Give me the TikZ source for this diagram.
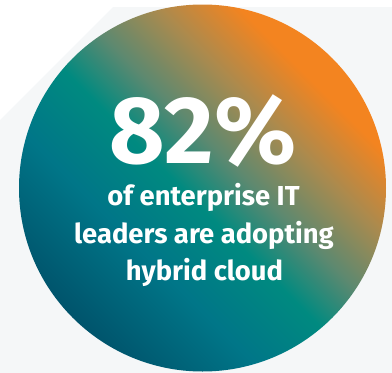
\documentclass[tikz,border=0pt]{standalone}
\usepackage{fontspec}
\setmainfont{Fira Sans}
\definecolor{bggray}{RGB}{245,247,248}
\definecolor{hcdark}{RGB}{0,84,108}
\definecolor{hcblue}{RGB}{0,118,136}
\definecolor{hcteal}{RGB}{0,138,128}
\definecolor{hcsage}{RGB}{92,137,112}
\definecolor{hctan}{RGB}{170,138,78}
\definecolor{hcorange}{RGB}{243,132,32}
\pgfdeclarehorizontalshading{hybrid}{100bp}{%
  color(0bp)=(hcdark); color(25bp)=(hcdark); color(38bp)=(hcblue);
  color(48bp)=(hcteal); color(55bp)=(hcsage); color(63bp)=(hctan);
  color(71bp)=(hcorange); color(100bp)=(hcorange)}
\tikzset{
    pct/.style={text=white, font=\fontsize{96}{96}\selectfont\bfseries, inner sep=0pt, text depth=0pt, anchor=base},
    line/.style={text=white, font=\fontsize{27.5}{27.5}\selectfont\bfseries, inner sep=0pt, anchor=base},
    disc/.style={shading=hybrid, shading angle=45}
}
\begin{document}
\begin{tikzpicture}[x=1bp, y=-1bp]
  \useasboundingbox (0,0) rectangle (392,373);
  % backdrop
  \fill[bggray] (0,120) -- (113,7) -- (392,7) -- (392,373) -- (0,373) -- cycle;
  \shade[disc] (202.5,188) circle[radius=183.5];

  \node[pct] (num) at (203,163) {82\%};
  \node[line] (l1) at (203.5,205) {of enterprise IT};
  \node[line] (l2) at (204,243) {leaders are adopting};
  \node[line] (l3) at (204.5,280) {hybrid cloud};
\end{tikzpicture}
\end{document}
